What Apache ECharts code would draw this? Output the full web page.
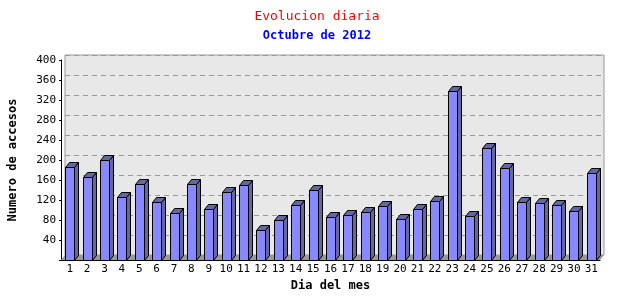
<!DOCTYPE html>
<html>
<head>
<meta charset="utf-8">
<script src="https://cdn.jsdelivr.net/npm/echarts@6/dist/echarts.min.js"></script>
<style>
  html, body { margin: 0; padding: 0; background: #fff; }
  #chart { width: 640px; height: 300px; }
</style>
</head>
<body>
<div id="chart"></div>
<script>
// datos del gráfico
const dias = ['1','2','3','4','5','6','7','8','9','10','11','12','13','14','15','16',
  '17','18','19','20','21','22','23','24','25','26','27','28','29','30','31'];
const accesos = [186, 166, 200, 127, 153, 116, 94, 153, 102, 136, 151, 60, 80, 110, 140, 86,
  91, 96, 109, 82, 102, 118, 338, 88, 224, 184, 116, 114, 110, 98, 174];
const yMax = 400;
const yPaso = 40;

const FUENTE = 'DejaVu Sans Mono';
const DX = 4, DY = -5;   // profundidad 3D
const ANCHO = 9;

// barra 3D: cara frontal, lateral y superior
function barra3D(params, api) {
  const idx = api.value(0);
  const top = api.coord([idx, api.value(1)]);
  const base = api.coord([idx, 0]);
  const x0 = Math.round(top[0] - ANCHO / 2) + 0.5;
  const x1 = x0 + ANCHO;
  const yt = Math.round(top[1]) + 0.5;
  const yb = Math.round(base[1]) + 0.5;
  const linea = { stroke: '#000', lineWidth: 1 };
  return {
    type: 'group',
    children: [
      { type: 'polygon', shape: { points: [[x1, yb], [x1, yt], [x1 + DX, yt + DY], [x1 + DX, yb + DY]] },
        style: Object.assign({ fill: '#6666a0' }, linea) },
      { type: 'polygon', shape: { points: [[x0, yt], [x1, yt], [x1 + DX, yt + DY], [x0 + DX, yt + DY]] },
        style: Object.assign({ fill: '#6666a0' }, linea) },
      { type: 'rect', shape: { x: x0, y: yt, width: ANCHO, height: yb - yt },
        style: Object.assign({ fill: '#8888ff' }, linea) }
    ]
  };
}

// suelo gris bajo las barras
function suelo(params) {
  const c = params.coordSys;
  const yb = c.y + c.height;
  return {
    type: 'polygon',
    shape: { points: [[c.x, yb], [c.x + c.width, yb], [c.x + c.width + DX, yb + DY], [c.x + DX, yb + DY]] },
    style: { fill: '#999999' },
    silent: true
  };
}

const chart = echarts.init(document.getElementById('chart'));
chart.setOption({
  animation: false,
  backgroundColor: '#fff',
  title: [
    { text: 'Evolucion diaria', left: 312, top: 5, textAlign: 'center',
      textStyle: { color: '#ff0000', fontFamily: FUENTE, fontSize: 13, fontWeight: 'normal' } },
    { text: 'Octubre de 2012', left: 312, top: 25, textAlign: 'center',
      textStyle: { color: '#0000ff', fontFamily: FUENTE, fontSize: 12, fontWeight: 'bold' } }
  ],
  grid: [
    // pared del fondo
    { left: 65, right: 36, top: 55, bottom: 45, show: true, outerBoundsMode: 'none',
      backgroundColor: '#e8e8e8', borderColor: '#999', borderWidth: 1 },
    // ejes frontales
    { left: 61, right: 40, top: 60, bottom: 40, outerBoundsMode: 'none' }
  ],
  xAxis: [
    { gridIndex: 0, type: 'category', data: dias, show: false },
    { gridIndex: 1, type: 'category', data: dias,
      name: 'Dia del mes', nameLocation: 'middle', nameGap: 16,
      nameTextStyle: { fontFamily: FUENTE, fontSize: 12, fontWeight: 'bold', color: '#000' },
      axisLine: { lineStyle: { color: '#000' } },
      axisTick: { length: 3, lineStyle: { color: '#000' } },
      axisLabel: { interval: 0, margin: 4, color: '#000', fontFamily: FUENTE, fontSize: 11 } }
  ],
  yAxis: [
    { gridIndex: 0, type: 'value', min: 0, max: yMax, interval: yPaso,
      axisLine: { show: false }, axisTick: { show: false }, axisLabel: { show: false },
      splitLine: { lineStyle: { color: '#999', type: [5, 4] } } },
    { gridIndex: 1, type: 'value', min: 0, max: yMax, interval: yPaso,
      name: 'Numero de accesos', nameLocation: 'middle', nameGap: 42,
      nameTextStyle: { fontFamily: FUENTE, fontSize: 12, fontWeight: 'bold', color: '#000' },
      axisLine: { show: true, lineStyle: { color: '#000' } },
      axisTick: { show: true, length: 2, lineStyle: { color: '#000' } },
      splitLine: { show: false },
      axisLabel: { margin: 5, color: '#000', fontFamily: FUENTE, fontSize: 11,
        formatter: v => (v === 0 ? '' : v) } }
  ],
  series: [
    { type: 'custom', xAxisIndex: 1, yAxisIndex: 1, data: [[0, 0]], renderItem: suelo, z: 1 },
    { type: 'custom', xAxisIndex: 1, yAxisIndex: 1, z: 2,
      data: accesos.map((v, i) => [i, v]), renderItem: barra3D }
  ]
});
</script>
</body>
</html>
